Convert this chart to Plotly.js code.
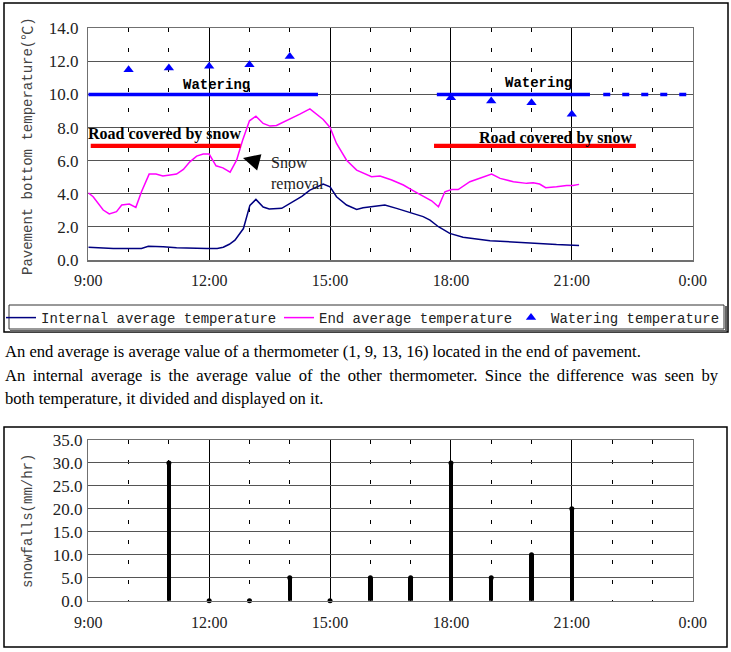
<!DOCTYPE html>
<html>
<head>
<meta charset="utf-8">
<script src="https://cdn.plot.ly/plotly-3.0.1.min.js"></script>
<style>html,body{margin:0;padding:0;background:#fff;}#chart{width:731px;height:652px;}</style>
</head>
<body>
<div id="chart"></div>
<script>
// ---------- data ----------
const tickHours = [9, 12, 15, 18, 21, 24];
const tickLabels = ['9:00', '12:00', '15:00', '18:00', '21:00', '0:00'];

const internalTime = [9.0, 9.62, 10.32, 10.49, 10.86, 11.19, 11.94, 12.2, 12.35, 12.5, 12.64, 12.85, 13.01, 13.16, 13.34, 13.49, 13.8, 14.09, 14.3, 14.5, 14.83, 15.0, 15.16, 15.41, 15.66, 15.82, 16.07, 16.36, 16.65, 16.98, 17.31, 17.48, 17.69, 17.97, 18.3, 18.97, 19.63, 20.04, 20.62, 21.18];
const internalTemp = [0.77, 0.70, 0.70, 0.83, 0.80, 0.74, 0.70, 0.70, 0.77, 0.95, 1.20, 1.90, 3.30, 3.66, 3.20, 3.08, 3.12, 3.52, 3.85, 4.22, 4.59, 4.42, 3.82, 3.32, 3.06, 3.16, 3.22, 3.32, 3.12, 2.86, 2.62, 2.41, 2.01, 1.61, 1.37, 1.17, 1.07, 1.00, 0.93, 0.88];

const endTime = [9.0, 9.12, 9.37, 9.52, 9.7, 9.83, 10.02, 10.18, 10.32, 10.51, 10.68, 10.85, 11.03, 11.19, 11.36, 11.52, 11.69, 11.85, 12.0, 12.17, 12.34, 12.52, 12.68, 12.83, 13.0, 13.16, 13.34, 13.51, 13.67, 14.0, 14.25, 14.5, 14.83, 15.0, 15.16, 15.41, 15.66, 16.03, 16.24, 16.53, 16.82, 17.07, 17.31, 17.52, 17.69, 17.85, 18.02, 18.18, 18.47, 18.72, 19.01, 19.22, 19.55, 19.88, 20.04, 20.2, 20.35, 20.62, 20.87, 21.03, 21.18];
const endTemp = [4.06, 3.82, 3.02, 2.78, 2.92, 3.32, 3.38, 3.18, 4.12, 5.19, 5.19, 5.07, 5.13, 5.19, 5.47, 5.93, 6.28, 6.40, 6.40, 5.69, 5.57, 5.31, 6.03, 7.24, 8.41, 8.69, 8.25, 8.09, 8.13, 8.49, 8.81, 9.13, 8.49, 8.01, 7.04, 6.03, 5.43, 5.03, 5.07, 4.83, 4.53, 4.18, 3.86, 3.58, 3.22, 4.12, 4.26, 4.26, 4.73, 4.93, 5.19, 4.93, 4.73, 4.63, 4.67, 4.59, 4.37, 4.42, 4.50, 4.50, 4.57];

const wateringTime = [10, 11, 12, 13, 14, 18, 19, 20, 21];
const wateringTemp = [11.5, 11.6, 11.7, 11.8, 12.3, 9.8, 9.6, 9.5, 8.8];

// periods (hours)
const wateringStart = [9.0, 17.65];
const wateringEnd = [14.7, 21.45];
const wateringLevel = 10.0;
const plannedStart = 21.78;
const plannedEnd = 24.0;
const coverStart = [9.06, 17.58];
const coverEnd = [12.78, 22.59];
const coverLevel = 6.9;

const snowHours = [11, 12, 13, 14, 15, 16, 17, 18, 19, 20, 21];
const snowfall = [30, 0, 0, 5, 0, 5, 5, 30, 5, 10, 20];

const seriesNames = ['Internal average temperature', 'End average temperature', 'Watering temperature'];
const noteLines = [
  'An end average is average value of a thermometer (1, 9, 13, 16) located in the end of pavement.',
  'An internal average is the average value of the other thermometer. Since the difference was seen by',
  'both temperature, it divided and displayed on it.'
];

// ---------- helpers ----------
const W = 731, H = 652;
const px = v => v / W;
const py = v => 1 - v / H;
const SERIF = '"Liberation Serif", "Times New Roman", serif';
const MONO = '"Liberation Mono", "Noto Sans CJK JP", monospace';

function segX(starts, ends) { const a = []; starts.forEach((s, i) => { a.push(s, ends[i], null); }); return a; }
function segY(starts, level) { const a = []; starts.forEach(() => { a.push(level, level, null); }); return a; }

const traces = [
  { x: internalTime, y: internalTemp, type: 'scatter', mode: 'lines', name: seriesNames[0], legend: 'legend',
    line: { color: '#000080', width: 1.5 }, xaxis: 'x', yaxis: 'y' },
  { x: endTime, y: endTemp, type: 'scatter', mode: 'lines', name: seriesNames[1], legend: 'legend2',
    line: { color: '#FF00FF', width: 1.5 }, xaxis: 'x', yaxis: 'y' },
  { x: wateringTime, y: wateringTemp, type: 'scatter', mode: 'markers', name: seriesNames[2], legend: 'legend3',
    marker: { symbol: 'triangle-up', color: '#0000FF', size: 9 }, xaxis: 'x', yaxis: 'y' },
  { x: segX(wateringStart, wateringEnd), y: segY(wateringStart, wateringLevel), type: 'scatter', mode: 'lines',
    line: { color: '#0000FF', width: 3.3 }, showlegend: false, hoverinfo: 'skip' },
  { x: [plannedStart, plannedEnd], y: [wateringLevel, wateringLevel], type: 'scatter', mode: 'lines',
    line: { color: '#0000FF', width: 3.3, dash: '7px,12px' }, showlegend: false, hoverinfo: 'skip' },
  { x: segX(coverStart, coverEnd), y: segY(coverStart, coverLevel), type: 'scatter', mode: 'lines',
    line: { color: '#FF0000', width: 4.3 }, showlegend: false, hoverinfo: 'skip' },
  { x: snowHours, y: snowfall, type: 'bar', width: 0.11, marker: { color: '#000', line: { width: 0 } },
    xaxis: 'x2', yaxis: 'y2', showlegend: false },
  { x: snowHours, y: snowfall, type: 'scatter', mode: 'markers', marker: { color: '#000', size: 5 },
    xaxis: 'x2', yaxis: 'y2', showlegend: false, cliponaxis: false }
];

const xDomain = [px(88.3), px(692.7)];
function xAxis(anchor, standoff) {
  return {
    domain: xDomain, range: [9, 24], anchor: anchor, automargin: false,
    tickmode: 'array', tickvals: tickHours, ticktext: tickLabels,
    ticks: '', ticklabelstandoff: standoff,
    tickfont: { family: SERIF, size: 16, color: '#222' },
    showgrid: true, gridcolor: '#000', gridwidth: 1,
    minor: { tickmode: 'linear', tick0: 9, dtick: 1, showgrid: true, gridcolor: '#000', gridwidth: 1, griddash: '4px,16px', ticks: '' },
    showline: true, mirror: true, linecolor: '#707070', linewidth: 1.5,
    zeroline: false, fixedrange: true
  };
}
function yAxis(anchor, domain, range, dtick, standoff) {
  return {
    domain: domain, range: range, anchor: anchor, dtick: dtick, tick0: 0, automargin: false,
    tickformat: '.1f', ticks: '', ticklabelstandoff: standoff,
    tickfont: { family: SERIF, size: 17, color: '#222' },
    showgrid: true, gridcolor: '#555', gridwidth: 1,
    showline: true, mirror: true, linecolor: '#707070', linewidth: 1.5,
    zeroline: false, fixedrange: true
  };
}

const annotations = [
  { xref: 'paper', yref: 'paper', x: px(28), y: py(146), text: 'Pavement bottom temperature(℃)', textangle: -90,
    showarrow: false, font: { family: MONO, size: 14, color: '#444' }, xanchor: 'center', yanchor: 'middle' },
  { xref: 'paper', yref: 'paper', x: px(28), y: py(521), text: 'snowfalls(mm/hr)', textangle: -90,
    showarrow: false, font: { family: MONO, size: 14, color: '#444' }, xanchor: 'center', yanchor: 'middle' },
  { xref: 'x', yref: 'y', x: 12.19, y: 10.56, text: '<b>Watering</b>', showarrow: false,
    font: { family: MONO, size: 14, color: '#000' } },
  { xref: 'x', yref: 'y', x: 20.18, y: 10.68, text: '<b>Watering</b>', showarrow: false,
    font: { family: MONO, size: 14, color: '#000' } },
  { xref: 'x', yref: 'y', x: 10.88, y: 7.6, text: '<b>Road covered by snow</b>', showarrow: false,
    font: { family: SERIF, size: 16, color: '#000' } },
  { xref: 'x', yref: 'y', x: 20.6, y: 7.4, text: '<b>Road covered by snow</b>', showarrow: false,
    font: { family: SERIF, size: 16, color: '#000' } },
  { xref: 'x', yref: 'y', x: 13.49, y: 5.25, text: 'Snow<br>removal', showarrow: false, xanchor: 'left', align: 'left',
    font: { family: SERIF, size: 16, color: '#222' } },
  { xref: 'x', yref: 'y', x: 12.84, y: 6.16, ax: 19, ay: 5, text: ' ', showarrow: true,
    arrowhead: 2, arrowsize: 2.8, arrowwidth: 1.2, arrowcolor: '#000', standoff: 0 }
];
const noteY = [351, 375, 398];
noteLines.forEach((t, i) => {
  const txt = (i === 1) ? t.replace(/ /g, ' \u2009') : t;
  annotations.push({ xref: 'paper', yref: 'paper', x: px(3), y: py(noteY[i]), text: txt, showarrow: false,
    xanchor: 'left', yanchor: 'middle', font: { family: SERIF, size: 16.6, color: '#000' } });
});

const shapes = [
  { type: 'rect', xref: 'paper', yref: 'paper', x0: px(4), x1: px(728), y0: py(332), y1: py(3), line: { color: '#000', width: 1.5 } },
  { type: 'rect', xref: 'paper', yref: 'paper', x0: px(9), x1: px(724), y0: py(329), y1: py(305), line: { color: '#333', width: 1 } },
  { type: 'line', xref: 'paper', yref: 'paper', x0: px(10), x1: px(726), y0: py(331), y1: py(331), line: { color: '#666', width: 2 } },
  { type: 'line', xref: 'paper', yref: 'paper', x0: px(726), x1: px(726), y0: py(331), y1: py(306), line: { color: '#666', width: 2 } },
  { type: 'rect', xref: 'paper', yref: 'paper', x0: px(4), x1: px(727), y0: py(647), y1: py(427), line: { color: '#000', width: 1.5 } }
];

function legendAt(xpx) {
  return { orientation: 'h', x: px(xpx), y: py(302), xanchor: 'left', yanchor: 'top',
    font: { family: MONO, size: 14, color: '#222' }, bgcolor: 'rgba(0,0,0,0)', itemwidth: 30, borderwidth: 0 };
}

const layout = {
  width: W, height: H, margin: { l: 0, r: 0, t: 0, b: 0, autoexpand: false },
  paper_bgcolor: '#fff', plot_bgcolor: '#fff',
  showlegend: true,
  legend: legendAt(1),
  legend2: legendAt(279),
  legend3: legendAt(511),
  xaxis: xAxis('y', 5),
  yaxis: yAxis('x', [py(260), py(28.3)], [0, 14], 2, 5),
  xaxis2: xAxis('y2', 7),
  yaxis2: yAxis('x2', [py(600.7), py(440)], [0, 35], 5, 1),
  bargap: 0,
  annotations: annotations,
  shapes: shapes
};

Plotly.newPlot('chart', traces, layout, { staticPlot: true, displayModeBar: false });
</script>
</body>
</html>
